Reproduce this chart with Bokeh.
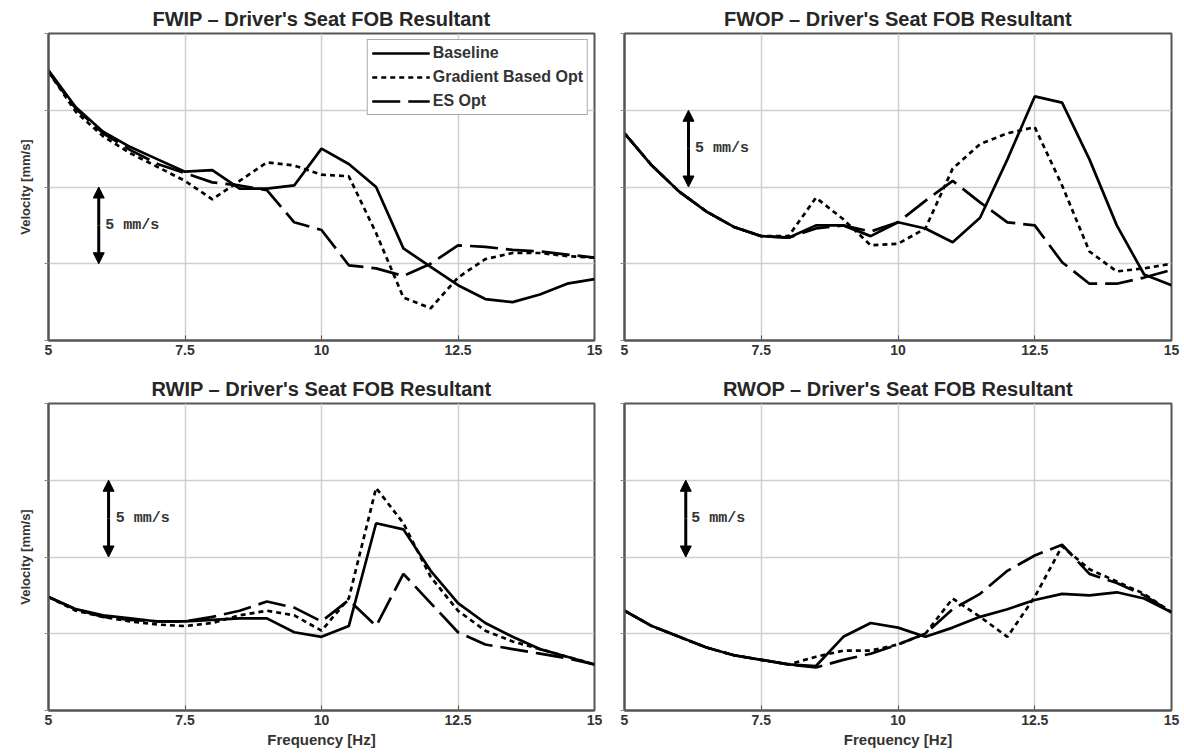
from bokeh.plotting import figure
from bokeh.layouts import column, row
from bokeh.models import Range1d, FixedTicker, Arrow, NormalHead, Label
from bokeh.embed import file_html
from bokeh.resources import INLINE

# ---- data ----
freq = [5.0, 5.5, 6.0, 6.5, 7.0, 7.5, 8.0, 8.5, 9.0, 9.5, 10.0,
        10.5, 11.0, 11.5, 12.0, 12.5, 13.0, 13.5, 14.0, 14.5, 15.0]

x_ticks = [5, 7.5, 10, 12.5, 15]
x_tick_labels = ["5", "7.5", "10", "12.5", "15"]
y_ticks = [0, 5, 10, 15, 20]

series_names = ["Baseline", "Gradient Based Opt", "ES Opt"]

fwip_baseline = [17.6, 15.2, 13.6, 12.6, 11.8, 11.0, 11.1, 9.9, 9.9, 10.1, 12.5,
                 11.5, 10.0, 6.0, 4.8, 3.6, 2.7, 2.5, 3.0, 3.7, 4.0]
fwip_gradient = [17.5, 14.9, 13.3, 12.2, 11.3, 10.4, 9.2, 10.4, 11.6, 11.4, 10.8,
                 10.7, 7.0, 2.8, 2.1, 4.1, 5.3, 5.7, 5.7, 5.5, 5.4]
fwip_es = [17.5, 15.1, 13.5, 12.4, 11.5, 10.9, 10.3, 10.1, 9.8, 7.7, 7.2,
           4.9, 4.7, 4.2, 5.0, 6.2, 6.1, 5.9, 5.8, 5.6, 5.4]

fwop_baseline = [13.5, 11.4, 9.7, 8.4, 7.4, 6.8, 6.7, 7.5, 7.5, 6.8, 7.7,
                 7.3, 6.4, 8.0, 11.8, 15.9, 15.5, 11.8, 7.5, 4.3, 3.6]
fwop_gradient = [13.5, 11.4, 9.7, 8.4, 7.4, 6.8, 6.8, 9.3, 7.9, 6.2, 6.3,
                 7.3, 11.2, 12.8, 13.5, 13.9, 10.1, 5.8, 4.5, 4.7, 5.0]
fwop_es = [13.5, 11.4, 9.7, 8.4, 7.4, 6.8, 6.7, 7.3, 7.5, 7.1, 7.7,
           9.1, 10.4, 9.0, 7.7, 7.5, 5.1, 3.7, 3.7, 4.1, 4.6]

rwip_baseline = [7.4, 6.6, 6.2, 6.0, 5.8, 5.8, 5.9, 6.0, 6.0, 5.1, 4.8,
                 5.5, 12.2, 11.8, 9.1, 7.0, 5.7, 4.8, 4.0, 3.5, 3.0]
rwip_gradient = [7.4, 6.5, 6.1, 5.8, 5.6, 5.5, 5.7, 6.2, 6.5, 6.2, 5.2,
                 7.3, 14.5, 12.2, 8.7, 6.5, 5.2, 4.5, 4.0, 3.5, 3.0]
rwip_es = [7.4, 6.6, 6.1, 5.9, 5.8, 5.8, 6.1, 6.5, 7.1, 6.7, 5.8,
           7.2, 5.5, 8.9, 7.0, 5.1, 4.3, 4.0, 3.7, 3.4, 3.0]

rwop_baseline = [6.5, 5.5, 4.8, 4.1, 3.6, 3.3, 3.0, 2.9, 4.8, 5.7, 5.4,
                 4.8, 5.4, 6.1, 6.6, 7.2, 7.6, 7.5, 7.7, 7.3, 6.4]
rwop_gradient = [6.5, 5.5, 4.8, 4.1, 3.6, 3.3, 3.0, 3.5, 3.9, 3.9, 4.3,
                 5.0, 7.3, 6.1, 4.8, 7.4, 10.7, 9.2, 8.4, 7.6, 6.4]
rwop_es = [6.5, 5.5, 4.8, 4.1, 3.6, 3.3, 3.0, 2.8, 3.3, 3.7, 4.3,
           5.0, 6.6, 7.6, 9.1, 10.1, 10.8, 8.9, 8.3, 7.5, 6.4]

titles = ["FWIP \u2013 Driver's Seat FOB Resultant",
          "FWOP \u2013 Driver's Seat FOB Resultant",
          "RWIP \u2013 Driver's Seat FOB Resultant",
          "RWOP \u2013 Driver's Seat FOB Resultant"]

# 5 mm/s scale-arrow annotations: (x, y_from, y_to, text_x)
scale_arrows = [(5.92, 10, 5, 6.04), (6.17, 15, 10, 6.29),
                (6.10, 15, 10, 6.23), (6.12, 15, 10, 6.22)]
scale_text = "5 mm/s"

line_dashes = ["solid", "5 4", "28 8"]

FONT = "Liberation Sans"


def make_panel(idx, data, left, right, top, bottom, ylabel, xlabel, legend):
    p = figure(frame_width=546 if idx % 2 == 0 else 547, frame_height=307,
               min_border_left=left, min_border_right=right,
               min_border_top=top, min_border_bottom=bottom,
               x_range=Range1d(5, 15), y_range=Range1d(0, 20),
               output_backend="svg", toolbar_location=None,
               title=titles[idx], background_fill_color="white",
               border_fill_color="white")
    p.title.align = "center"
    p.title.text_font = FONT
    p.title.text_font_size = "20px"
    p.title.text_font_style = "bold"
    p.title.text_color = "#262626"
    p.title.standoff = 8

    p.outline_line_color = "#555555"
    p.outline_line_width = 2

    p.xaxis.ticker = FixedTicker(ticks=x_ticks)
    p.xaxis.major_label_overrides = dict(zip(x_ticks, x_tick_labels))
    p.xaxis.major_tick_in = 5
    p.xaxis.major_tick_out = 0
    p.xaxis.minor_tick_line_color = None
    p.xaxis.axis_line_color = "#555555"
    p.xaxis.axis_line_width = 2
    p.xaxis.major_tick_line_color = "#555555"
    p.xaxis.major_label_text_font = FONT
    p.xaxis.major_label_text_font_style = "bold"
    p.xaxis.major_label_text_font_size = "14px"
    p.xaxis.major_label_text_color = "#333333"
    p.xaxis.major_label_standoff = 4
    if xlabel:
        p.xaxis.axis_label = "Frequency [Hz]"
        p.xaxis.axis_label_text_font = FONT
        p.xaxis.axis_label_text_font_style = "bold"
        p.xaxis.axis_label_text_font_size = "15px"
        p.xaxis.axis_label_text_color = "#333333"
        p.xaxis.axis_label_standoff = 3

    p.yaxis.ticker = FixedTicker(ticks=y_ticks)
    p.yaxis.major_label_overrides = {t: "" for t in y_ticks}
    p.yaxis.major_tick_in = 0
    p.yaxis.major_tick_out = 4
    p.yaxis.minor_tick_line_color = None
    p.yaxis.axis_line_color = "#555555"
    p.yaxis.axis_line_width = 2
    p.yaxis.major_tick_line_color = "#888888"
    if ylabel:
        p.yaxis.axis_label = "Velocity [mm/s]"
        p.yaxis.axis_label_text_font = FONT
        p.yaxis.axis_label_text_font_style = "bold"
        p.yaxis.axis_label_text_font_size = "13px"
        p.yaxis.axis_label_text_color = "#333333"
        p.yaxis.axis_label_standoff = 12

    p.xgrid.ticker = FixedTicker(ticks=x_ticks)
    p.ygrid.ticker = FixedTicker(ticks=y_ticks)
    p.grid.grid_line_color = "#cfcfcf"
    p.grid.grid_line_width = 1.5

    for ys, name, dash in zip(data, series_names, line_dashes):
        kw = dict(legend_label=name) if legend else {}
        p.line(freq, ys, line_color="black", line_width=2.7,
               line_dash=dash, **kw)

    ax, y0, y1, tx = scale_arrows[idx]
    p.add_layout(Arrow(x_start=ax, y_start=(y0 + y1) / 2, x_end=ax, y_end=y0,
                       line_width=3, line_color="black",
                       end=NormalHead(size=11, fill_color="black",
                                      line_color="black")))
    p.add_layout(Arrow(x_start=ax, y_start=(y0 + y1) / 2, x_end=ax, y_end=y1,
                       line_width=3, line_color="black",
                       end=NormalHead(size=11, fill_color="black",
                                      line_color="black")))
    p.add_layout(Label(x=tx, y=(y0 + y1) / 2, text=scale_text,
                       text_font="Liberation Mono", text_font_size="15px",
                       text_font_style="bold", text_color="#333333",
                       text_align="left", text_baseline="middle"))

    if legend:
        lg = p.legend[0]
        lg.location = "top_right"
        lg.margin = 6
        lg.padding = 4
        lg.spacing = 6
        lg.glyph_width = 58
        lg.glyph_height = 18
        lg.label_height = 18
        lg.label_standoff = 3
        lg.label_text_font = FONT
        lg.label_text_font_style = "bold"
        lg.label_text_font_size = "16px"
        lg.label_text_color = "#333333"
        lg.border_line_color = "#555555"
        lg.border_line_width = 1.5
        lg.background_fill_alpha = 1.0
    return p


p1 = make_panel(0, [fwip_baseline, fwip_gradient, fwip_es], 48, 14, 33, 30,
                True, False, True)
p2 = make_panel(1, [fwop_baseline, fwop_gradient, fwop_es], 16, 13, 33, 30,
                False, False, False)
p3 = make_panel(2, [rwip_baseline, rwip_gradient, rwip_es], 48, 14, 33, 43,
                True, True, False)
p4 = make_panel(3, [rwop_baseline, rwop_gradient, rwop_es], 16, 13, 33, 43,
                False, True, False)

layout = column(row(p1, p2, spacing=0), row(p3, p4, spacing=0), spacing=0)

open("out.html", "w").write(file_html(layout, INLINE))
